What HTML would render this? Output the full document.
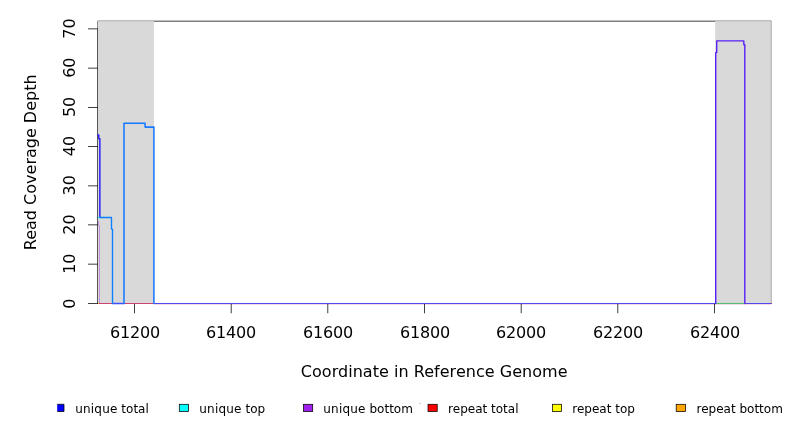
<!DOCTYPE html>
<html lang="en">
<head>
<meta charset="utf-8">
<title>Read Coverage Depth</title>
<style>
html,body{margin:0;padding:0;background:#fff;}
body{width:792px;height:432px;overflow:hidden;}
svg{display:block;}
text{font-family:"DejaVu Sans","Liberation Sans",sans-serif;fill:#000;}
.ax{font-size:16px;}
.lg{font-size:12px;}
</style>
</head>
<body>
<svg width="792" height="432" viewBox="0 0 792 432">
<rect x="0" y="0" width="792" height="432" fill="#ffffff"/>

<!-- baseline faint pink under-row -->
<rect x="154" y="304" width="617.2" height="0.9" fill="#f4d6e4"/>

<!-- plot box (drawn first, partly covered by the shaded regions); thin lines built as filled shapes for exact coverage -->
<path fill="#000" fill-rule="evenodd" d="M97.545 20.745H771.255V303.735H97.545ZM98.295 21.495V302.985H770.505V21.495Z"/>

<!-- axes -->
<g fill="#000">
<rect x="97.545" y="28.585" width="0.75" height="275.15"/>
<path d="M87.945 28.585H97.920V29.335H87.945ZM87.945 67.785H97.920V68.535H87.945ZM87.945 106.985H97.920V107.735H87.945ZM87.945 146.185H97.920V146.935H87.945ZM87.945 185.385H97.920V186.135H87.945ZM87.945 224.585H97.920V225.335H87.945ZM87.945 263.785H97.920V264.535H87.945ZM87.945 302.985H97.920V303.735H87.945Z"/>
<rect x="134.125" y="302.985" width="580.75" height="0.75"/>
<path d="M134.125 302.985H134.875V313.335H134.125ZM230.795 302.985H231.545V313.335H230.795ZM327.455 302.985H328.205V313.335H327.455ZM424.125 302.985H424.875V313.335H424.125ZM520.795 302.985H521.545V313.335H520.795ZM617.455 302.985H618.205V313.335H617.455ZM714.125 302.985H714.875V313.335H714.125Z"/>
</g>

<!-- shaded flanking regions -->
<rect x="97.92" y="21.12" width="56.08" height="282.24" fill="#d9d9d9"/>
<rect x="715.2" y="21.12" width="55.68" height="282.24" fill="#d9d9d9"/>

<!-- data lines -->
<g fill="none" stroke-linejoin="round" stroke-linecap="round">
<!-- thin bottom-strand line at left -->
<path d="M97.9 221.3H98.6V225.2H99.5V303.4" stroke="#c08ae2" stroke-width="0.9" stroke-linecap="butt"/>
<!-- baseline colours -->
<path d="M99 303.45H112.5M124 303.45H154" stroke="#d04070" stroke-width="1.1" stroke-linecap="butt"/>
<path d="M716 303.45H745" stroke="#55c070" stroke-width="1" stroke-linecap="butt"/>
<path d="M112.5 303.5H124" stroke="#4050ff" stroke-width="1.4"/>
<path d="M154 303.45H715.8M745 303.45H771.5" stroke="#5048f0" stroke-width="1.05" stroke-linecap="butt"/>
<!-- deep blue (total + bottom) at far left -->
<path d="M97.9 134.9H98.8V138.85H99.85V217.4" stroke="#2a20ff" stroke-width="1.5"/>
<!-- light blue (total + top) -->
<path d="M99.85 217.5H111.5V229.1H112.5V303.5" stroke="#0a80ff" stroke-width="1.35"/>
<path d="M124 303.5V123.2H145.1V127.1H153.9V303.5" stroke="#1878ff" stroke-width="1.55"/>
<!-- cyan stub -->
<path d="M97.9 217.5H99.4" stroke="#30e8f0" stroke-width="1.4" stroke-linecap="butt"/>
<!-- right cluster -->
<path d="M715.7 303.5V52.6H716.7V40.86H743.8V44.78H744.8V303.5" stroke="#5820f8" stroke-width="1.4"/>
</g>
<rect x="98" y="303" width="1" height="1" fill="#ff9a00"/>
<rect x="771.3" y="303" width="0.6" height="1" fill="#8b2030"/>

<!-- tick labels -->
<g class="ax" text-anchor="middle">
<text x="110" y="338" text-anchor="start" letter-spacing="-0.18">61200</text>
<text x="206" y="338" text-anchor="start" letter-spacing="-0.18">61400</text>
<text x="303" y="338" text-anchor="start" letter-spacing="-0.18">61600</text>
<text x="400" y="338" text-anchor="start" letter-spacing="-0.18">61800</text>
<text x="496" y="338" text-anchor="start" letter-spacing="-0.18">62000</text>
<text x="593" y="338" text-anchor="start" letter-spacing="-0.18">62200</text>
<text x="690" y="338" text-anchor="start" letter-spacing="-0.18">62400</text>
<text x="434.2" y="377" letter-spacing="0.035">Coordinate in Reference Genome</text>
<text transform="translate(75.2 303.6) rotate(-90)">0</text>
<text transform="translate(75.2 263.7) rotate(-90)">10</text>
<text transform="translate(75.2 224.5) rotate(-90)">20</text>
<text transform="translate(75.2 185.3) rotate(-90)">30</text>
<text transform="translate(75.2 146.1) rotate(-90)">40</text>
<text transform="translate(75.2 106.9) rotate(-90)">50</text>
<text transform="translate(75.2 67.7) rotate(-90)">60</text>
<text transform="translate(75.2 28.5) rotate(-90)">70</text>
<text transform="translate(36.2 162.3) rotate(-90)">Read Coverage Depth</text>
</g>

<!-- legend -->
<rect x="419" y="403" width="2" height="1" fill="#cdcdcd"/>
<g stroke="#000" stroke-width="0.75">
<path d="M57.2 404.3H64V411.5H57.2" fill="#0000ff"/>
<rect x="179.3" y="404.3" width="9.2" height="7.2" fill="#00ffff"/>
<rect x="303.5" y="404.3" width="9.2" height="7.2" fill="#a020f0"/>
<rect x="428" y="404.3" width="9.2" height="7.2" fill="#ff0000"/>
<rect x="552.4" y="404.3" width="9.2" height="7.2" fill="#ffff00"/>
<rect x="676.2" y="404.3" width="9.2" height="7.2" fill="#ffa500"/>
</g>
<g class="lg">
<text x="75.2" y="412.8"><tspan letter-spacing="0.2">unique</tspan> total</text>
<text x="199.3" y="412.8"><tspan letter-spacing="0.2">unique</tspan> top</text>
<text x="323.3" y="412.8"><tspan letter-spacing="0.2">unique</tspan> bottom</text>
<text x="448.1" y="412.8">repeat total</text>
<text x="572.3" y="412.8">repeat top</text>
<text x="696.5" y="412.8">repeat bottom</text>
</g>
</svg>
</body>
</html>
